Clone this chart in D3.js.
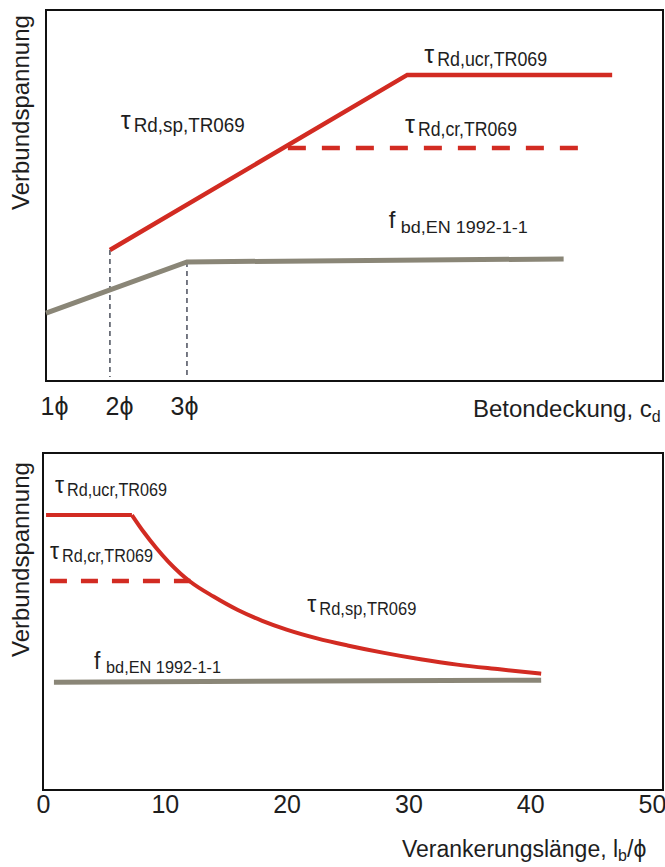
<!DOCTYPE html>
<html>
<head>
<meta charset="utf-8">
<script src="https://cdn.jsdelivr.net/npm/d3@7"></script>
<style>
  html, body { margin: 0; padding: 0; background: #fff; }
  svg { display: block; }
  text { font-family: "Liberation Sans", Arial, "DejaVu Sans", sans-serif; fill: #1e1e1e; }
</style>
</head>
<body>
<svg id="chart" width="665" height="867"></svg>
<script>
// ---- data: upper panel, bond stress over concrete cover c/ϕ (schematic units) ----
const topTauSp = [[2, 35.3], [5.86, 82.5], [8.52, 82.5]];   // splitting -> uncracked plateau
const topTauCr = [[4.31, 62.8], [8.27, 62.8]];               // cracked, dashed
const topFbd   = [[1.17, 18.3], [3, 32.1], [7.89, 32.9]];    // EN 1992-1-1
const topGuides = [[2, 35.3], [3, 32.1]];                    // dashed drop lines
const topTickLabels = ["1ϕ", "2ϕ", "3ϕ"];

// ---- data: lower panel, bond stress over anchorage length lb/ϕ ----
const botTauUcr = [[0.25, 81.6], [7.3, 81.6]];
const botTauSp = [[7.3, 81.6], [8.3, 76.4], [9.3, 71.8], [10.3, 67.7], [11.3, 64.2],
  [12.1, 61.8], [14, 57.4], [16, 53.4], [18, 50.2], [20, 47.6], [22.5, 45.0],
  [25, 42.9], [28, 40.7], [31, 38.8], [34, 37.2], [37.5, 35.8], [40.9, 34.5]];
const botTauCr = [[0.57, 62.0], [12.1, 62.0]];
const botFbd   = [[0.9, 32.0], [40.9, 32.6]];
const botTicks = [0, 10, 20, 30, 40, 50];

// annotation labels (symbol + subscript), positioned in data units
const topNotes = [
  {sym: "τ", sub: "Rd,ucr,TR069", x: 6.08, y: 84.9, symW: 13, subW: 110, raise: 3, symSize: 25, subSize: 20},
  {sym: "τ", sub: "Rd,sp,TR069",  x: 2.14, y: 67.1, symW: 13, subW: 111, raise: 3, symSize: 25, subSize: 20},
  {sym: "τ", sub: "Rd,cr,TR069",  x: 5.83, y: 66.0, symW: 13, subW: 99,  raise: 3, symSize: 25, subSize: 20},
  {sym: "f", sub: "bd,EN 1992-1-1", x: 5.62, y: 39.9, symW: 12, subW: 127, raise: 5, symSize: 24, subSize: 16}
];
const botNotes = [
  {sym: "τ", sub: "Rd,ucr,TR069", x: 0.99, y: 87.2, symW: 12, subW: 100, raise: 3, symSize: 23, subSize: 18},
  {sym: "τ", sub: "Rd,cr,TR069",  x: 0.57, y: 67.7, symW: 12, subW: 91,  raise: 3, symSize: 23, subSize: 18},
  {sym: "τ", sub: "Rd,sp,TR069",  x: 21.7, y: 51.9, symW: 12, subW: 97,  raise: 3, symSize: 23, subSize: 18},
  {sym: "f", sub: "bd,EN 1992-1-1", x: 4.19, y: 34.7, symW: 12, subW: 115, raise: 4, symSize: 23, subSize: 16}
];

const RED = "#d22b22", GREY = "#8a8677";
const svg = d3.select("#chart");

// panel frames
const topBox = {left: 46, right: 663, top: 10, bottom: 381};
const botBox = {left: 43, right: 663, top: 453, bottom: 790};

const xTop = d3.scaleLinear().domain([1.17, 9.18]).range([topBox.left, topBox.right]);
const yTop = d3.scaleLinear().domain([0, 100]).range([topBox.bottom, topBox.top]);
const xBot = d3.scaleLinear().domain([0, 50]).range([43, 652]);
const yBot = d3.scaleLinear().domain([0, 100]).range([botBox.bottom, botBox.top]);

function frame(box) {
  svg.append("rect")
    .attr("x", box.left).attr("y", box.top)
    .attr("width", box.right - box.left).attr("height", box.bottom - box.top)
    .attr("fill", "none").attr("stroke", "#111").attr("stroke-width", 2);
}

function drawLine(data, x, y, color, width, dash, curve) {
  const line = d3.line().x(d => x(d[0])).y(d => y(d[1])).curve(curve || d3.curveLinear);
  svg.append("path")
    .datum(data)
    .attr("d", line)
    .attr("fill", "none")
    .attr("stroke", color)
    .attr("stroke-width", width)
    .attr("stroke-dasharray", dash || null);
}

function notes(list, x, y) {
  list.forEach(a => {
    const px = x(a.x), py = y(a.y);
    svg.append("text").attr("x", px).attr("y", py - a.raise)
      .style("font-size", a.symSize + "px").text(a.sym);
    svg.append("text").attr("x", px + a.symW).attr("y", py)
      .style("font-size", a.subSize + "px")
      .attr("textLength", a.subW).attr("lengthAdjust", "spacingAndGlyphs")
      .text(a.sub);
  });
}

function yTitle(xBase, yStart) {
  svg.append("text")
    .attr("transform", `translate(${xBase},${yStart}) rotate(-90)`)
    .style("font-size", "24px")
    .text("Verbundspannung");
}

// ---------- upper panel ----------
frame(topBox);

svg.append("g").selectAll("line")
  .data(topGuides)
  .join("line")
    .attr("x1", d => xTop(d[0])).attr("x2", d => xTop(d[0]))
    .attr("y1", d => yTop(d[1])).attr("y2", topBox.bottom - 4)
    .attr("stroke", "#3d4250").attr("stroke-width", 1.4)
    .attr("stroke-dasharray", "5,4");

drawLine(topFbd, xTop, yTop, GREY, 5);
drawLine(topTauCr, xTop, yTop, RED, 4.5, "18,16");
drawLine(topTauSp, xTop, yTop, RED, 4.5);
notes(topNotes, xTop, yTop);

// c/ϕ labels along the bottom of the upper panel
const topLabelScale = d3.scalePoint().domain(topTickLabels).range([54, 184]);
svg.append("g")
  .attr("transform", `translate(0,${topBox.bottom})`)
  .call(d3.axisBottom(topLabelScale).tickSize(0).tickPadding(16))
  .call(g => g.select(".domain").remove())
  .selectAll("text")
    .style("font-size", "25px")
    .style("font-family", "'Liberation Sans', Arial, 'DejaVu Sans', sans-serif")
    .attr("fill", "#1e1e1e");

const tTitle = svg.append("text").attr("x", 473).attr("y", 417).style("font-size", "24px");
tTitle.append("tspan").text("Betondeckung, c");
tTitle.append("tspan").attr("dy", 5).style("font-size", "16px").text("d");

yTitle(29, 210);

// ---------- lower panel ----------
frame(botBox);

drawLine(botFbd, xBot, yBot, GREY, 5);
drawLine(botTauCr, xBot, yBot, RED, 4.5, "17,14");
drawLine(botTauUcr, xBot, yBot, RED, 4);
drawLine(botTauSp, xBot, yBot, RED, 4, null, d3.curveMonotoneX);
notes(botNotes, xBot, yBot);

svg.append("g")
  .attr("transform", `translate(0,${botBox.bottom})`)
  .call(d3.axisBottom(xBot).tickValues(botTicks).tickSize(0).tickPadding(5))
  .call(g => g.select(".domain").remove())
  .selectAll("text")
    .style("font-size", "25px")
    .style("font-family", "'Liberation Sans', Arial, 'DejaVu Sans', sans-serif")
    .attr("fill", "#1e1e1e");

const bTitle = svg.append("text").attr("x", 402).attr("y", 857).style("font-size", "23px");
bTitle.append("tspan").text("Verankerungslänge, l");
bTitle.append("tspan").attr("dy", 4).style("font-size", "16px").text("b");
bTitle.append("tspan").attr("dy", -4).text("/ϕ");

yTitle(29, 657);
</script>
</body>
</html>
